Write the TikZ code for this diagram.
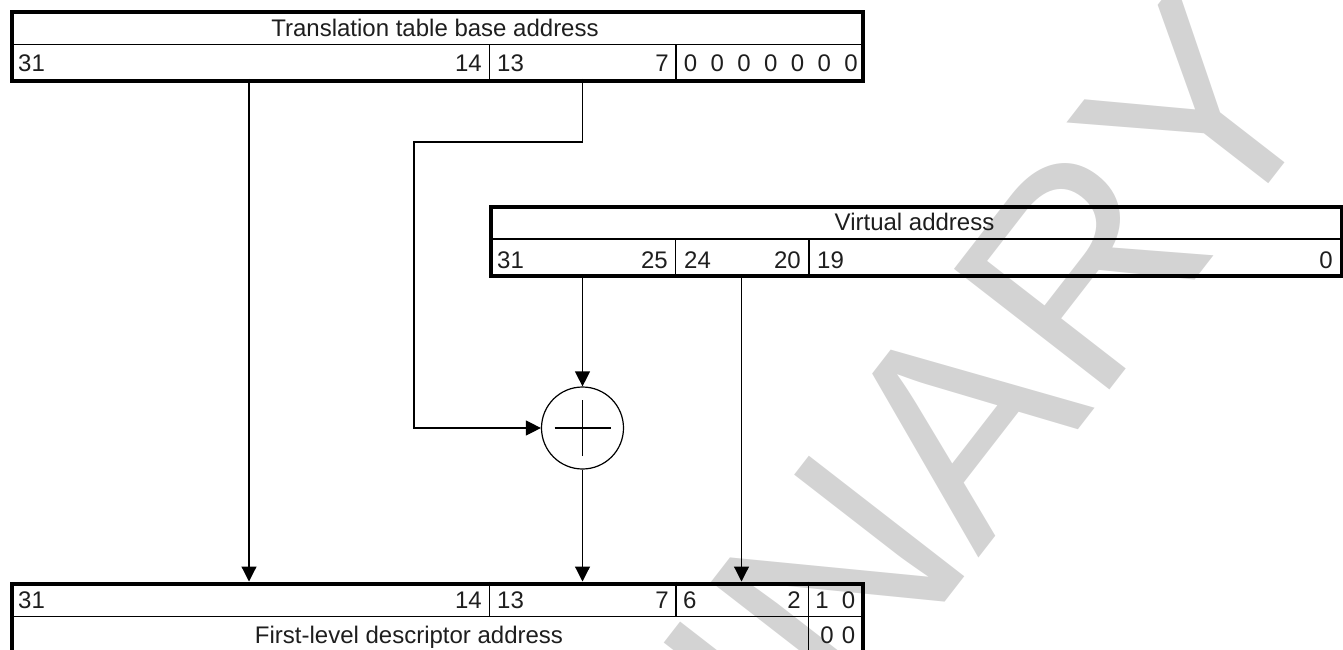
\documentclass[tikz,border=0pt]{standalone}
\usepackage{fontspec}
\setmainfont{Liberation Sans}
\usetikzlibrary{arrows.meta}
\definecolor{wmgray}{RGB}{211,211,211}
\definecolor{ink}{RGB}{30,30,30}
\begin{document}
\begin{tikzpicture}[x=1pt,y=-1pt,
  outerbox/.style={draw=black, line width=4pt, inner sep=0pt, anchor=north west},
  divline/.style={line width=1.2pt},
  conn/.style={line width=1.2pt},
  arr/.style={conn, -{Triangle[length=15pt,width=15pt]}},
  lbl/.style={inner sep=0pt, font=\fontsize{24}{28}\selectfont, text=ink},
  wmtext/.style={inner sep=0pt, font=\fontsize{286}{286}\selectfont, text=wmgray}]
\useasboundingbox (0,0) rectangle (1343,650);

% watermark
\node[wmtext, rotate=52.2, anchor=base east] (wm) at (1336,98) {PRELIMINARY};

% ---------- Translation table base address ----------
\node[outerbox, minimum width=850.5pt, minimum height=69pt] (ttb) at (10,10) {};
\draw[divline] (10,44.5) -- (860.5,44.5);
\draw[divline] (489.3,44.5) -- (489.3,79);
\draw[divline] (676,44.5) -- (676,79);
\node[lbl, anchor=base] (ttbh) at (435,36.5) {Translation table base address};
\node[lbl, anchor=base west] (t31) at (18,72) {31};
\node[lbl, anchor=base east] (t14) at (482,72) {14};
\node[lbl, anchor=base west] (t13) at (497,72) {13};
\node[lbl, anchor=base east] (t7) at (669,72) {7};
\foreach \k in {0,...,6} {
  \node[lbl, anchor=base] (tz\k) at ({690.5+26.75*\k},72) {0};
}

% ---------- Virtual address ----------
\node[outerbox, minimum width=851pt, minimum height=69pt] (va) at (489,205) {};
\draw[divline] (489,239) -- (1340,239);
\draw[divline] (675.7,239) -- (675.7,274);
\draw[divline] (809,239) -- (809,274);
\node[lbl, anchor=base] (vah) at (914.5,230) {Virtual address};
\node[lbl, anchor=base west] (v31) at (497,268) {31};
\node[lbl, anchor=base east] (v25) at (668,268) {25};
\node[lbl, anchor=base west] (v24) at (684,268) {24};
\node[lbl, anchor=base east] (v20) at (801,268) {20};
\node[lbl, anchor=base west] (v19) at (817,268) {19};
\node[lbl, anchor=base east] (v0) at (1333,268) {0};

% ---------- First-level descriptor address ----------
\node[outerbox, minimum width=851pt, minimum height=70pt] (fld) at (10,581.5) {};
\draw[divline] (10,616.7) -- (861,616.7);
\draw[divline] (489.3,581.5) -- (489.3,616.7);
\draw[divline] (676,581.5) -- (676,616.7);
\draw[divline] (808.3,581.5) -- (808.3,651.5);
\node[lbl, anchor=base west] (f31) at (18,608) {31};
\node[lbl, anchor=base east] (f14) at (482,608) {14};
\node[lbl, anchor=base west] (f13) at (497,608) {13};
\node[lbl, anchor=base east] (f7) at (669,608) {7};
\node[lbl, anchor=base west] (f6) at (683,608) {6};
\node[lbl, anchor=base east] (f2) at (801,608) {2};
\node[lbl, anchor=base] (f1) at (822,608) {1};
\node[lbl, anchor=base] (f0) at (848.5,608) {0};
\node[lbl, anchor=base] (fh) at (409,643) {First-level descriptor address};
\node[lbl, anchor=base] (fz1) at (827,643) {0};
\node[lbl, anchor=base] (fz0) at (848.5,643) {0};

% ---------- adder ----------
\node[draw, circle, line width=1.2pt, minimum size=82pt, inner sep=0pt] (add) at (582.5,428) {};
\draw[conn] ([xshift=-28pt]add.center) -- ([xshift=28pt]add.center);
\draw[conn] ([yshift=-28pt]add.center) -- ([yshift=28pt]add.center);

% ---------- connectors ----------
\coordinate (ttbA) at (249,79);
\coordinate (ttbB) at (582.5,79);
\coordinate (bendB) at (414,142);
\coordinate (vaA) at (582.5,274);
\coordinate (vaB) at (741.5,274);

\draw[arr] (ttbA) -- (ttbA |- fld.north);
\draw[arr] (ttbB) |- (bendB) |- (add.west);
\draw[arr] (vaA) -- (add.north);
\draw[arr] (add.south) -- (add.south |- fld.north);
\draw[arr] (vaB) -- (vaB |- fld.north);
\end{tikzpicture}
\end{document}
